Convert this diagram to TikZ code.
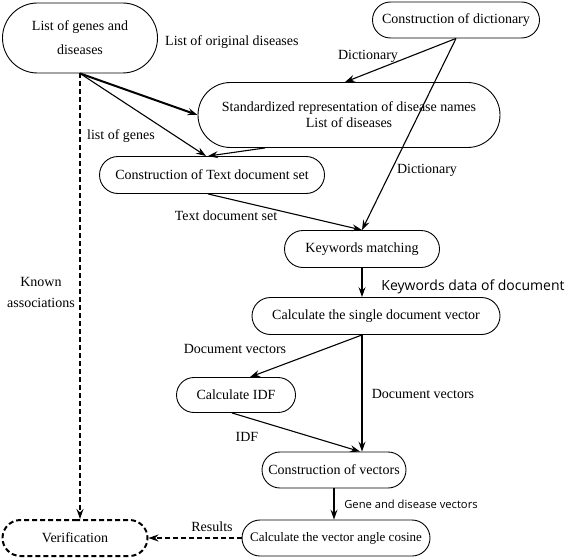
\documentclass[tikz,border=0pt]{standalone}
\usepackage{fontspec}
\setmainfont{Liberation Serif}
\newfontfamily\labelsans{Open Sans}
\usetikzlibrary{shapes.misc,arrows.meta}

\tikzset{
  stage/.style={draw, rounded rectangle, line width=0.9pt, inner sep=0pt, minimum height=36pt, font=\fontsize{14}{16}\selectfont},
  flow/.style={->, line width=1.1pt},
  lab/.style={inner sep=0pt, font=\fontsize{14}{16}\selectfont},
  sanslab/.style={inner sep=0pt, font=\labelsans\fontsize{11.2}{13}\selectfont},
}

\begin{document}
\begin{tikzpicture}[x=1pt, y=-1pt, >={Stealth[length=10pt,width=7pt,inset=3.5pt]}]
\useasboundingbox (0,0) rectangle (567,559);

% Các bước xử lý
\node[stage, minimum width=155pt, minimum height=70pt, align=center, font=\fontsize{14}{24}\selectfont] (genes) at (80,38) {List of genes and\\diseases};
\node[stage, minimum width=167pt] (dict) at (456,20) {Construction of dictionary};
\node[stage, minimum width=302pt, minimum height=65pt, align=center] (std) at (349,115) {Standardized representation of disease names\\List of diseases};
\node[stage, minimum width=225pt, minimum height=37pt] (textset) at (212,175) {Construction of Text document set};
\node[stage, minimum width=155pt, minimum height=37pt] (kw) at (362,249) {Keywords matching};
\node[stage, minimum width=248pt, minimum height=37pt] (single) at (376,316) {Calculate the single document vector};
\node[stage, minimum width=119pt, minimum height=35pt] (idf) at (236,395) {Calculate IDF};
\node[stage, minimum width=144pt] (vec) at (334,470) {Construction of vectors};
\node[stage, minimum width=188pt, font=\fontsize{13}{15}\selectfont] (cos) at (336,538) {Calculate the vector angle cosine};
\node[stage, minimum width=145pt, dashed, dash pattern=on 5pt off 3pt, line width=2pt] (verif) at (75,538) {Verification};

% Các mũi tên
\draw[flow, line width=2pt] (genes.south) -- (std.west);
\draw[flow] (genes.south) -- ([xshift=-6]textset.north);
\draw[flow] ([xshift=-84]std.south) -- ([xshift=-4]textset.north);
\draw[flow] (dict.south) -- ([xshift=-4]std.north);
\draw[flow] (dict.south) -- (kw.north);
\draw[flow] ([xshift=-4]textset.south) -- (kw.north);
\draw[flow] (kw.south) -- (kw.south |- single.north);
\draw[flow] (kw.south |- single.south) -- ([xshift=14]idf.north);
\draw[flow] (kw.south |- single.south) -- (kw.south |- vec.north);
\draw[flow] ([xshift=-4]idf.south) -- ([xshift=-2]kw.south |- vec.north);
\draw[flow] (vec.south) -- (vec.south |- cos.north);
\draw[->, line width=1.1pt, dashed, dash pattern=on 5pt off 3pt] (cos.west) -- (verif.east);
\draw[->, line width=2pt, dash pattern=on 5pt off 3pt] (genes.south) -- (genes.south |- verif.north);

% Nhãn trên các mũi tên
\node[lab, anchor=west] (origlab) at (165,42) {List of original diseases};
\node[lab] (dictlab) at (368,56) {Dictionary};
\node[lab] (geneslab) at (121,136) {list of genes};
\node[lab] (dictlabb) at (427,170) {Dictionary};
\node[lab] (textlab) at (226,216) {Text document set};
\node[sanslab, font=\labelsans\fontsize{14}{16}\selectfont] (kwlab) at (473,287) {Keywords data of document};
\node[lab] (doclab) at (235,349) {Document vectors};
\node[lab] (doclabb) at (423,394) {Document vectors};
\node[lab] (idflab) at (247,437) {IDF};
\node[sanslab] (veclab) at (411,504) {Gene and disease vectors};
\node[lab] (reslab) at (212,527) {Results};
\node[lab, align=center, font=\fontsize{14}{21}\selectfont] (knownlab) at (41,292) {Known\\associations};
\end{tikzpicture}
\end{document}
